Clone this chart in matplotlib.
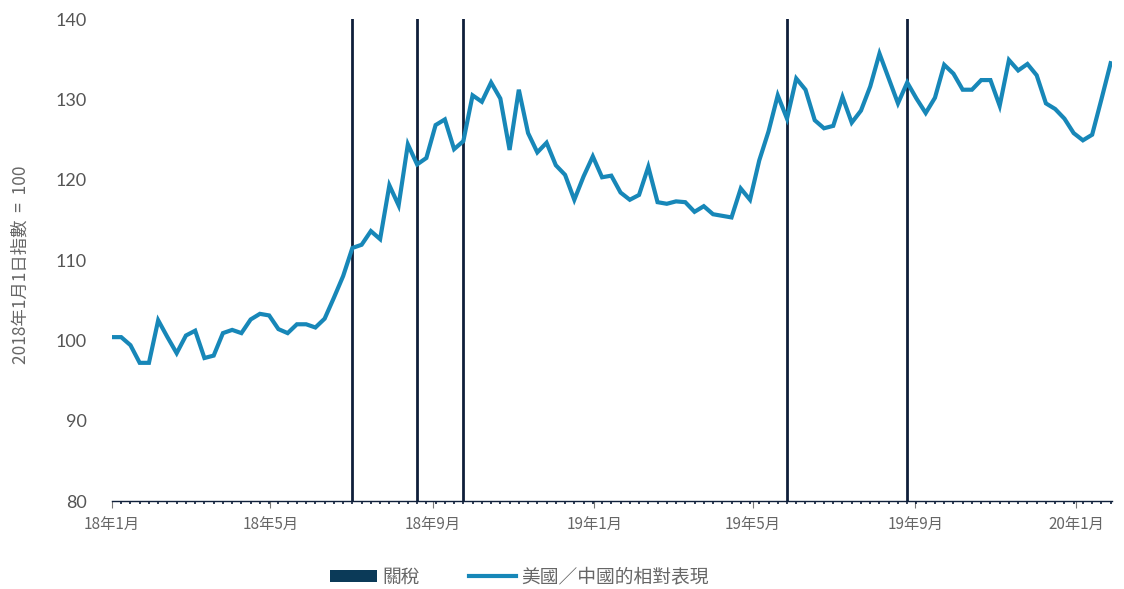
import matplotlib
matplotlib.use("Agg")
import matplotlib.pyplot as plt
import matplotlib.dates as mdates
from matplotlib.lines import Line2D
from matplotlib.patches import Patch
import pandas as pd

plt.rcParams['font.family'] = ['Noto Sans CJK TC', 'DejaVu Sans']

# weekly index, 2018-01-01 = 100
start_date = "2018-01-01"
relative_perf = [
    100.4, 100.4, 99.4, 97.2, 97.2, 102.5, 100.4, 98.4, 100.6, 101.2,
    97.8, 98.1, 100.9, 101.3, 100.9, 102.6, 103.3, 103.1, 101.4, 100.9,
    102.0, 102.0, 101.6, 102.7, 105.3, 108.0, 111.5, 111.9, 113.6, 112.6,
    119.3, 116.8, 124.4, 121.9, 122.7, 126.8, 127.5, 123.8, 124.8, 130.5,
    129.7, 132.1, 130.1, 123.7, 131.2, 125.8, 123.4, 124.6, 121.8, 120.6,
    117.5, 120.4, 122.9, 120.3, 120.5, 118.4, 117.5, 118.1, 121.6, 117.2,
    117.0, 117.3, 117.2, 116.0, 116.7, 115.7, 115.5, 115.3, 118.9, 117.5,
    122.4, 126.0, 130.5, 127.6, 132.6, 131.2, 127.4, 126.4, 126.7, 130.3,
    127.1, 128.6, 131.6, 135.7, 132.6, 129.5, 132.1, 130.1, 128.3, 130.2,
    134.3, 133.2, 131.2, 131.2, 132.4, 132.4, 129.2, 134.9, 133.6, 134.4,
    133.0, 129.5, 128.8, 127.6, 125.8, 124.9, 125.6, 130.0, 134.5,
]
tariff_dates = ["2018-07-02", "2018-08-20", "2018-09-24", "2019-05-27", "2019-08-26"]
tick_dates = ["2018-01-01", "2018-05-01", "2018-09-01", "2019-01-01",
              "2019-05-01", "2019-09-01", "2020-01-01"]
tick_labels = ["18年1月", "18年5月", "18年9月", "19年1月", "19年5月", "19年9月", "20年1月"]

dates = pd.date_range(start_date, periods=len(relative_perf), freq="7D")

line_color = "#1787b8"
tariff_color = "#0f1f3a"
text_gray = "#666666"

fig = plt.figure(figsize=(11.24, 5.89), dpi=100)
ax = fig.add_axes([0.0996, 0.1494, 0.8897, 0.8183])

for d in tariff_dates:
    ax.axvline(pd.Timestamp(d), color=tariff_color, lw=2.0, zorder=2)

ax.plot(dates, relative_perf, color=line_color, lw=3.0, solid_joinstyle="miter",
        zorder=3)

ax.set_ylim(80, 140)
ax.set_xlim(pd.Timestamp("2018-01-01"), pd.Timestamp("2020-01-28"))

ax.set_yticks(range(80, 141, 10))
ax.tick_params(axis="y", length=0, pad=18, labelsize=13, labelcolor="#555555")
for lab in ax.get_yticklabels():
    lab.set_family(["Lato", "DejaVu Sans"])

ax.set_xticks([pd.Timestamp(d) for d in tick_dates])
ax.set_xticklabels(tick_labels)
ax.xaxis.set_minor_locator(mdates.WeekdayLocator(byweekday=mdates.MO))
ax.tick_params(axis="x", which="major", length=5, width=0.8, color="#777777",
               pad=6, labelsize=11, labelcolor=text_gray)
ax.tick_params(axis="x", which="minor", length=2, width=1.2, color=tariff_color)

for side in ["top", "right", "left"]:
    ax.spines[side].set_visible(False)
ax.spines["bottom"].set_color(tariff_color)
ax.spines["bottom"].set_linewidth(1.0)

fig.text(0.018, 0.55, "2018年1月1日指數  =  100", rotation=90, ha="center",
         va="center", fontsize=12.5, color=text_gray)

handles = [Patch(facecolor="#0b3a58", edgecolor="none", label="關稅"),
           Line2D([0], [0], color=line_color, lw=3.0, label="美國／中國的相對表現")]
fig.legend(handles=handles, loc="center", bbox_to_anchor=(0.462, 0.02), ncol=2,
           frameon=False, fontsize=13.5, labelcolor=text_gray, handlelength=2.5,
           handleheight=0.6, columnspacing=2.6, handletextpad=0.3)

fig.savefig("out.png", dpi=100)
